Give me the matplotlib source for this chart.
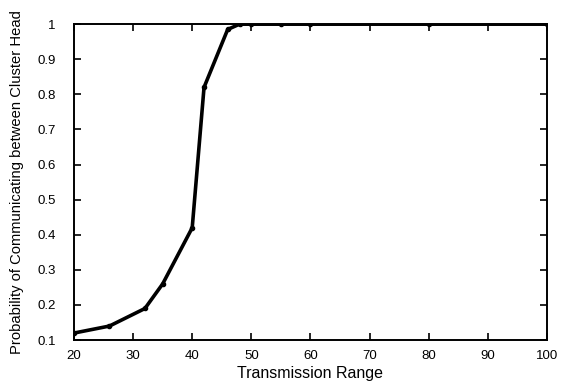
import matplotlib.pyplot as plt

# Transmission range vs. probability of communicating between cluster heads
ranges = [20, 26, 32, 35, 40, 42, 46, 48, 50, 55, 60, 80, 100]
prob = [0.12, 0.14, 0.19, 0.26, 0.42, 0.82, 0.985, 1.0, 1.0, 1.0, 1.0, 1.0, 1.0]

x_ticks = [20, 30, 40, 50, 60, 70, 80, 90, 100]
y_ticks = [0.1, 0.2, 0.3, 0.4, 0.5, 0.6, 0.7, 0.8, 0.9, 1.0]
y_labels = ["0.1", "0.2", "0.3", "0.4", "0.5", "0.6", "0.7", "0.8", "0.9", "1"]

plt.rcParams['font.family'] = ['Liberation Sans', 'DejaVu Sans']

fig = plt.figure(figsize=(5.67, 3.9), dpi=100)
ax = fig.add_axes([0.1305, 0.128, 0.834, 0.81])

ax.plot(ranges, prob, color='black', linewidth=2.6, marker='o', markersize=3)

ax.set_xlim(20, 100)
ax.set_ylim(0.1, 1.0)
ax.set_xticks(x_ticks)
ax.set_yticks(y_ticks)
ax.set_yticklabels(y_labels)
ax.tick_params(direction='in', length=5, width=1.2, top=True, right=True,
               labelsize=9.5)
ax.tick_params(axis='y', pad=13)
ax.tick_params(axis='x', pad=7)
for s in ax.spines.values():
    s.set_linewidth(1.4)

ax.set_xlabel("Transmission Range", fontsize=11.5, labelpad=3)
ax.set_ylabel("Probability of Communicating between Cluster Head", fontsize=10.6,
              labelpad=10)

fig.savefig("out.png", dpi=100)
